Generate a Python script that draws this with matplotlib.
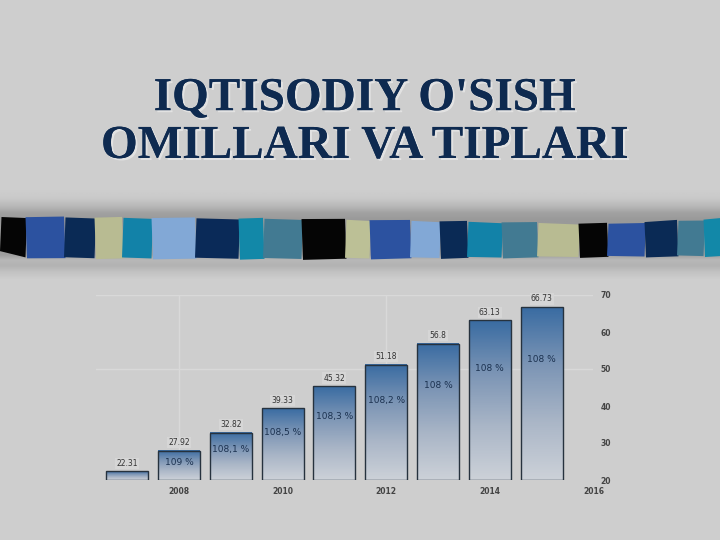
import matplotlib.pyplot as plt
import matplotlib.patheffects as pe
import numpy as np
from matplotlib.colors import LinearSegmentedColormap
from matplotlib.patches import Rectangle, Polygon

years = [2007, 2008, 2009, 2010, 2011, 2012, 2013, 2014, 2015]
values = [22.31, 27.92, 32.82, 39.33, 45.32, 51.18, 56.8, 63.13, 66.73]
value_labels = ['22.31', '27.92', '32.82', '39.33', '45.32', '51.18', '56.8', '63.13', '66.73']
growth = ['', '109 %', '108,1 %', '108,5 %', '108,3 %', '108,2 %', '108 %', '108 %', '108 %']
x_ticks = [2008, 2010, 2012, 2014, 2016]
y_ticks = [20, 30, 40, 50, 60, 70]

stripe_colors = ['#050505', '#2c52a0', '#0a2a55', '#b8bb92', '#1282a8', '#82a8d6', '#0a2a58',
                 '#1288a8', '#427a92', '#050505', '#bcc096', '#2c52a0', '#82a8d6', '#0a2a55',
                 '#1282a8', '#427a92', '#b8bb92', '#050505', '#2c52a0', '#0a2a55', '#427a92',
                 '#1288a8']
stripe_edges = [0, 27, 64, 96, 122, 153, 195, 240, 263, 303, 345, 371, 410, 441, 467, 503,
                537, 580, 607, 646, 677, 705, 720]

bg = '#cecece'
fig = plt.figure(figsize=(7.2, 5.4), dpi=100, facecolor=bg)

# background layer in pixel coordinates
bax = fig.add_axes([0, 0, 1, 1])
bax.set_xlim(0, 720)
bax.set_ylim(540, 0)
bax.axis('off')
bax.set_facecolor(bg)

# grey tube behind the coloured strip
prof_y = [188, 198, 206, 213, 220, 255, 260, 266, 272, 280]
prof_v = [0.81, 0.79, 0.72, 0.63, 0.60, 0.62, 0.72, 0.70, 0.76, 0.81]
yy = np.linspace(188, 280, 200)
grad = np.interp(yy, prof_y, prof_v)[:, None] * np.ones((1, 10))
bax.imshow(grad, extent=[0, 720, 280, 188], cmap='gray', vmin=0, vmax=1, aspect='auto', zorder=1)

def top(x):
    return np.interp(x, [0, 300, 600, 720], [217, 219, 224, 219])

def bot(x):
    return np.interp(x, [0, 30, 300, 720], [252, 258, 259, 256])

for i, c in enumerate(stripe_colors):
    x0, x1 = stripe_edges[i], stripe_edges[i + 1]
    s = 1.5 if i % 2 == 0 else -1.5
    pts = [(x0 + s, top(x0)), (x1, top(x1) + s * 0.6), (x1 - s, bot(x1)), (x0, bot(x0) - s * 0.6)]
    bax.add_patch(Polygon(pts, closed=True, facecolor=c, edgecolor='none', zorder=2))

# title
bax.text(365, 123, "IQTISODIY O'SISH\nOMILLARI VA TIPLARI", ha='center', va='center',
         fontsize=34, fontweight='bold', family='Liberation Serif', color='#0e2a50',
         linespacing=1.18, zorder=3,
         path_effects=[pe.withSimplePatchShadow(offset=(1.5, -1.5), shadow_rgbFace='#e8e8e8', alpha=0.8),
                       pe.Normal()])

# chart
ax = fig.add_axes([96 / 720, 60 / 540, 497.4 / 720, 185 / 540])
ax.set_facecolor('none')
ax.set_xlim(2006.4, 2016.0)
ax.set_ylim(20, 70)

for xv in [2008, 2012]:
    ax.axvline(xv, color='#d9d9d9', lw=1, zorder=0)
for yv in [50, 70]:
    ax.axhline(yv, color='#d9d9d9', lw=1, zorder=0)

cmap = LinearSegmentedColormap.from_list('bar', ['#ccd1d8', '#aab6c7', '#7c95b5', '#3a6ca2'])
g = np.linspace(0, 1, 100)[:, None]
w = 0.81
for yr, v, vl, gl in zip(years, values, value_labels, growth):
    ax.imshow(g, extent=[yr - w / 2, yr + w / 2, 20, v], origin='lower', cmap=cmap,
              aspect='auto', zorder=2)
    ax.add_patch(Rectangle((yr - w / 2, 20), w, v - 20, facecolor='none',
                           edgecolor='#26323e', lw=1, zorder=3))
    ax.text(yr, v + 1.0, vl, ha='center', va='bottom', fontsize=5.5, color='#333333',
            zorder=4, clip_on=False,
            bbox=dict(boxstyle='square,pad=0.15', facecolor='#d6d6d6', edgecolor='none'))
    if gl:
        ax.text(yr, 19 + 0.72 * (v - 20), gl, ha='center', va='center', fontsize=6.5,
                color='#1c3250', zorder=4)

ax.set_xticks(x_ticks)
ax.set_xticklabels([str(t) for t in x_ticks], fontsize=5.5, fontweight='bold', color='#444444')
ax.set_yticks(y_ticks)
ax.set_yticklabels([str(t) for t in y_ticks], fontsize=5.5, fontweight='bold', color='#444444')
ax.yaxis.tick_right()
ax.tick_params(axis='both', length=0, pad=5)
for sp in ax.spines.values():
    sp.set_visible(False)

fig.savefig('out.png', dpi=100, facecolor=bg)
